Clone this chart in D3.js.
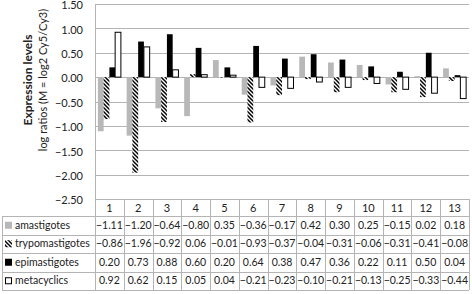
<!DOCTYPE html>
<html>
<head>
<meta charset="utf-8">
<script src="https://cdn.jsdelivr.net/npm/d3@7"></script>
<style>
  body { margin: 0; background: #fff; }
  text { font-family: Lato, "Liberation Sans", sans-serif; fill: #222; }
</style>
</head>
<body>
<div id="chart"></div>
<script>
var categories = ["1","2","3","4","5","6","7","8","9","10","11","12","13"];
var seriesNames = ["amastigotes", "trypomastigotes", "epimastigotes", "metacyclics"];
var amastigotes = [-1.11, -1.20, -0.64, -0.80, 0.35, -0.36, -0.17, 0.42, 0.30, 0.25, -0.15, 0.02, 0.18];
var trypomastigotes = [-0.86, -1.96, -0.92, 0.06, -0.01, -0.93, -0.37, -0.04, -0.31, -0.06, -0.31, -0.41, -0.08];
var epimastigotes = [0.20, 0.73, 0.88, 0.60, 0.20, 0.64, 0.38, 0.47, 0.36, 0.22, 0.11, 0.50, 0.04];
var metacyclics = [0.92, 0.62, 0.15, 0.05, 0.04, -0.21, -0.23, -0.10, -0.21, -0.13, -0.25, -0.33, -0.44];
var yTicks = [1.5, 1.0, 0.5, 0.0, -0.5, -1.0, -1.5, -2.0, -2.5];

var seriesValues = [amastigotes, trypomastigotes, epimastigotes, metacyclics];

var width = 472, height = 294;
var plotLeft = 95, plotRight = 469, plotTop = 4, plotBottom = 199;
var tableLeft = 2, rowH = 18.5, headerH = 17;

var gridColor = "#b4b4b4";

var svg = d3.select("#chart")
    .append("svg")
    .attr("width", width)
    .attr("height", height);

var defs = svg.append("defs");
var pat = defs.append("pattern")
    .attr("id", "hatch")
    .attr("patternUnits", "userSpaceOnUse")
    .attr("width", 4)
    .attr("height", 4);
pat.append("rect").attr("width", 4).attr("height", 4).attr("fill", "#fff");
pat.append("path")
    .attr("d", "M-1,-1 L5,5 M-1,3 L1,5 M3,-1 L5,1")
    .attr("stroke", "#000")
    .attr("stroke-width", 1.5);

var fills = ["#b8b8b8", "url(#hatch)", "#000", "#fff"];
var strokes = ["none", "none", "none", "#000"];

var x = d3.scaleBand()
    .domain(categories)
    .range([plotLeft, plotRight]);

var xInner = d3.scaleBand()
    .domain(seriesNames)
    .range([0, x.bandwidth()])
    .paddingInner(0)
    .paddingOuter(0.5);

var y = d3.scaleLinear()
    .domain([-2.5, 1.5])
    .range([plotBottom, plotTop]);

// gridlines
svg.append("g")
    .selectAll("line")
    .data(yTicks)
    .enter()
    .append("line")
    .attr("x1", plotLeft)
    .attr("x2", plotRight)
    .attr("y1", function(d){ return Math.round(y(d)) + 0.5; })
    .attr("y2", function(d){ return Math.round(y(d)) + 0.5; })
    .attr("stroke", gridColor)
    .attr("stroke-width", 1);

// y axis labels
svg.append("g")
    .selectAll("text")
    .data(yTicks)
    .enter()
    .append("text")
    .attr("x", 83)
    .attr("y", function(d){ return y(d) + 1.5; })
    .attr("dy", "0.35em")
    .attr("text-anchor", "end")
    .style("font-size", "11px")
    .text(function(d){ return d3.format(".2f")(d); });

// y axis titles
var titleY = 80;
svg.append("text")
    .attr("transform", "translate(32," + titleY + ") rotate(-90)")
    .attr("text-anchor", "middle")
    .style("font-size", "12px")
    .style("font-weight", "bold")
    .text("Expression levels");
svg.append("text")
    .attr("transform", "translate(47," + titleY + ") rotate(-90)")
    .attr("text-anchor", "middle")
    .style("font-size", "11px")
    .text("log ratios (M = log2 Cy5/Cy3)");

// bars
var groups = svg.selectAll(".series")
    .data(seriesValues)
    .enter()
    .append("g")
    .attr("class", "series");

groups.each(function(vals, si){
    d3.select(this).selectAll("rect")
        .data(vals)
        .enter()
        .append("rect")
        .attr("x", function(d, i){ return x(categories[i]) + xInner(seriesNames[si]); })
        .attr("width", xInner.bandwidth())
        .attr("y", function(d){ return y(Math.max(0, d)); })
        .attr("height", function(d){ return Math.abs(y(d) - y(0)); })
        .attr("fill", fills[si])
        .attr("stroke", strokes[si])
        .attr("stroke-width", 1);
});

// data table
var table = svg.append("g").attr("stroke", gridColor).attr("fill", "none");
var tableTop = plotBottom;
var rowsTop = tableTop + headerH;
var tableBottom = rowsTop + rowH * seriesNames.length;

// left axis line
svg.append("line")
    .attr("x1", plotLeft + 0.5).attr("x2", plotLeft + 0.5)
    .attr("y1", plotTop).attr("y2", tableBottom)
    .attr("stroke", gridColor);

table.append("line")
    .attr("x1", plotLeft).attr("x2", plotRight)
    .attr("y1", tableTop + 0.5).attr("y2", tableTop + 0.5);

for (var r = 0; r <= seriesNames.length; r++) {
    table.append("line")
        .attr("x1", tableLeft).attr("x2", plotRight)
        .attr("y1", Math.round(rowsTop + r * rowH) + 0.5)
        .attr("y2", Math.round(rowsTop + r * rowH) + 0.5);
}
table.append("line")
    .attr("x1", tableLeft + 0.5).attr("x2", tableLeft + 0.5)
    .attr("y1", rowsTop).attr("y2", tableBottom);

categories.forEach(function(c){
    var xr = Math.round(x(c) + x.bandwidth()) + 0.5;
    table.append("line")
        .attr("x1", xr).attr("x2", xr)
        .attr("y1", tableTop).attr("y2", tableBottom);
});

// header numbers
svg.append("g")
    .selectAll("text")
    .data(categories)
    .enter()
    .append("text")
    .attr("x", function(d){ return x(d) + x.bandwidth() / 2; })
    .attr("y", tableTop + headerH / 2 + 1)
    .attr("dy", "0.35em")
    .attr("text-anchor", "middle")
    .style("font-size", "11px")
    .text(function(d){ return d; });

// rows
seriesNames.forEach(function(name, si){
    var cy = rowsTop + rowH * si + rowH / 2;
    var g = svg.append("g");
    // legend key
    if (si === 1) {
        g.append("rect")
            .attr("x", 5).attr("y", cy - 3.5)
            .attr("width", 7).attr("height", 7)
            .attr("fill", "url(#hatch)");
    } else {
        g.append("rect")
            .attr("x", si === 3 ? 5.5 : 5).attr("y", si === 3 ? cy - 3 : cy - 3.5)
            .attr("width", si === 3 ? 6 : 7).attr("height", si === 3 ? 6 : 7)
            .attr("fill", fills[si])
            .attr("stroke", strokes[si]);
    }
    g.append("text")
        .attr("x", 15)
        .attr("y", cy)
        .attr("dy", "0.35em")
        .style("font-size", "10.5px")
        .text(name);
    g.selectAll(".val")
        .data(seriesValues[si])
        .enter()
        .append("text")
        .attr("x", function(d, i){ return x(categories[i]) + x.bandwidth() / 2; })
        .attr("y", cy)
        .attr("dy", "0.35em")
        .attr("text-anchor", "middle")
        .style("font-size", "10.5px")
        .text(function(d){ return d3.format(".2f")(d); });
});
</script>
</body>
</html>
